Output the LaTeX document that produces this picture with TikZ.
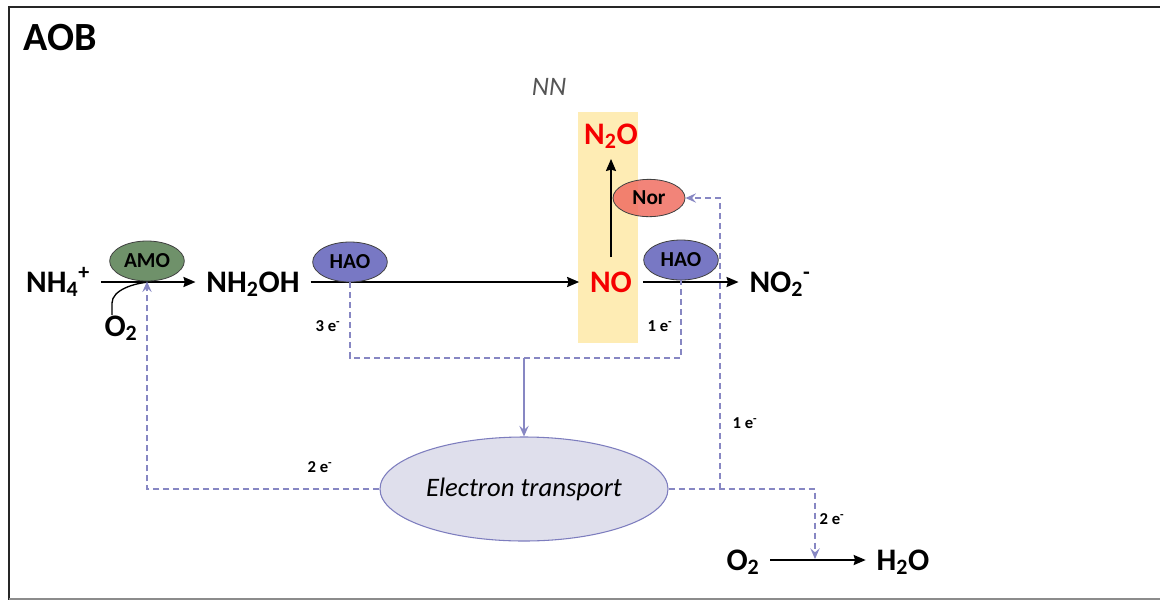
\documentclass[tikz,border=0pt]{standalone}
\usepackage{fontspec}
\setmainfont{Carlito}
\usetikzlibrary{arrows.meta,shapes.geometric,calc}
\definecolor{amog}{RGB}{111,145,106}
\definecolor{haob}{RGB}{120,120,196}
\definecolor{norr}{RGB}{240,110,98}
\definecolor{etf}{RGB}{223,223,236}
\definecolor{etb}{RGB}{125,125,190}
\definecolor{ylw}{RGB}{254,236,180}
\definecolor{dshc}{RGB}{135,135,195}
\definecolor{nng}{RGB}{85,85,85}
\definecolor{redt}{RGB}{245,0,0}
\begin{document}
\begin{tikzpicture}[x=0.75pt,y=-0.75pt,
  chem/.style={font=\fontsize{23.5}{27}\selectfont\bfseries, text height=17pt, text depth=2pt, inner xsep=8pt, inner ysep=9pt},
  enz/.style={ellipse, draw=black!75, line width=0.6pt, inner sep=0pt, minimum width=56pt, minimum height=30pt, font=\fontsize{16}{19}\selectfont\bfseries},
  elab/.style={font=\fontsize{12.5}{15}\selectfont\bfseries, inner sep=1pt},
  arr/.style={line width=1.5pt, -{Stealth[length=9pt,width=7.5pt,inset=1pt]}},
  dsh/.style={draw=dshc, line width=1.1pt, dash pattern=on 4.5pt off 3pt},
  dtip/.style={-{Stealth[length=8pt,width=7pt,inset=3pt,fill=dshc]}},
]
\useasboundingbox (0,0) rectangle (1160,601);
% frame
\draw[line width=2.2pt, black!85] (1160,7) -- (9,7) -- (9,600);
\draw[line width=1.5pt, black!45] (9,599) -- (1160,599);

\node[font=\fontsize{30}{34}\selectfont\bfseries] (aob) at (60,38) {AOB};
\node[font=\fontsize{20}{24}\selectfont\itshape, text=nng] (nn) at (549,87) {NN};

% yellow highlight
\fill[ylw] (578,112) rectangle (638,343);

% chemical species
\node[chem] (nh4) at (58,282) {NH\textsubscript{4}\textsuperscript{+}};
\node[chem] (nh2oh) at (253,282) {NH\textsubscript{2}OH};
\node[chem, text=redt] (no) at (611,282) {NO};
\node[chem] (no2) at (780,282) {NO\textsubscript{2}\textsuperscript{-}};
\node[chem, text=redt] (n2o) at (611,134) {N\textsubscript{2}O};
\node[chem] (o2a) at (121,326) {O\textsubscript{2}};
\node[chem] (o2b) at (743,560) {O\textsubscript{2}};
\node[chem] (h2o) at (903,560) {H\textsubscript{2}O};

% main arrows
\draw[arr] (nh4.east) -- (nh2oh.west);
\draw[arr] (nh2oh.east) -- (no.west);
\draw[arr] (no.east) -- (no2.west);
\draw[arr] (no.north) -- (n2o.south);
\draw[arr] (o2b.east) -- (h2o.west);

% O2 feeding into AMO reaction
\coordinate (cj) at (150,282);
\draw[line width=1pt] ($(o2a.north)+(-9,14)$) -- ++(0,-12) .. controls +(0,-13) and +(-16,1) .. (cj);

% electron transport
\node[ellipse, draw=etb, fill=etf, line width=0.8pt, minimum width=216pt, minimum height=78pt, inner sep=0pt, font=\fontsize{20}{24}\selectfont\itshape] (et) at (524,489) {Electron transport};

% electron flow junctions
\coordinate (bus) at (524,358);
\coordinate (j) at (720,489);
\coordinate (rx) at (815,559);

% enzymes
\node[enz, fill=amog] (amo) at (147,261) {AMO};
\node[enz, fill=haob] (hao1) at (350,262) {HAO};
\node[enz, fill=haob] (hao2) at (681,260) {HAO};
\node[enz, fill=norr, fill opacity=0.85, text opacity=1, minimum width=54pt, minimum height=28pt] (nor) at (649,198) {Nor};

\draw[dsh] (hao1.south) |- (bus) -| (hao2.south);
\draw[draw=dshc, line width=1.1pt, dtip] (bus) -- (et.north);
\draw[dsh, dtip] (et.west) -| (amo.south);
\draw[dsh, dtip] (et.east) -| (rx);
\draw[dsh, dtip] (j) |- (nor.east);

% electron labels
\node[elab] (l3e) at (328,326) {3 e\textsuperscript{-}};
\node[elab] (l1ea) at (660,326) {1 e\textsuperscript{-}};
\node[elab] (l2ea) at (320,467) {2 e\textsuperscript{-}};
\node[elab] (l1eb) at (745,423) {1 e\textsuperscript{-}};
\node[elab] (l2eb) at (832,519) {2 e\textsuperscript{-}};
\end{tikzpicture}
\end{document}
